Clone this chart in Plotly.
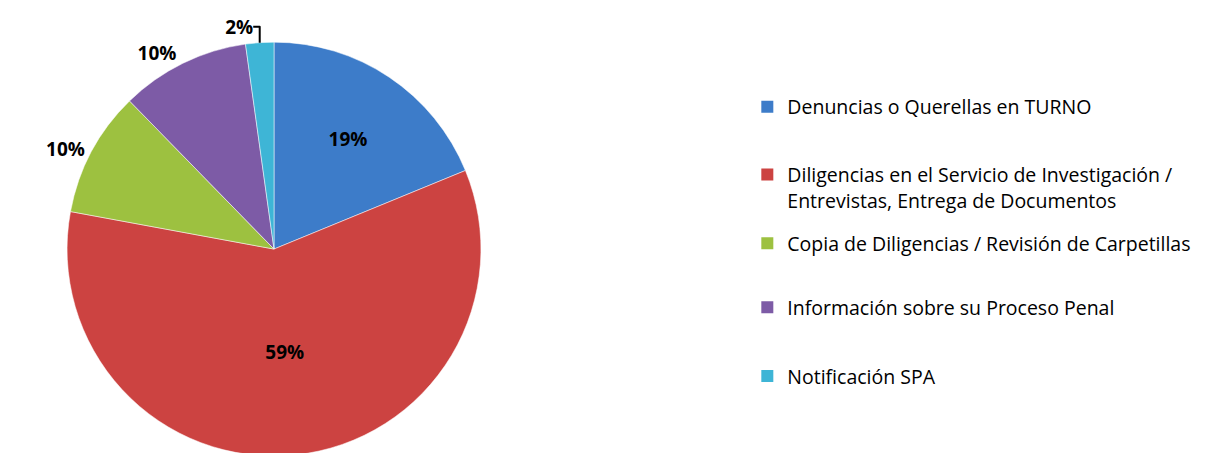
import plotly.graph_objects as go

# categories and shares (percent)
categories = [
    "Denuncias o Querellas en TURNO",
    "Diligencias en el Servicio de Investigación /<br>Entrevistas, Entrega de Documentos",
    "Copia de Diligencias / Revisión de Carpetillas",
    "Información sobre su Proceso Penal",
    "Notificación SPA",
]
shares = [18.8, 59.1, 9.8, 10.1, 2.2]
colors = ["#3D7CC9", "#CC4341", "#9DC140", "#7D5BA6", "#3EB5D6"]
text_pos = ["inside", "inside", "outside", "outside", "outside"]

# vertical place of each legend entry (pixels from top, first text line)
legend_rows = [103, 172, 242, 307, 377]

W, H = 1212, 453

fig = go.Figure()
fig.add_trace(go.Pie(
    labels=categories,
    values=shares,
    sort=False,
    direction="clockwise",
    rotation=0,
    marker=dict(colors=colors, line=dict(color="rgba(255,255,255,0.5)", width=1)),
    texttemplate="%{percent:.0%}",
    textposition=text_pos,
    insidetextorientation="horizontal",
    textfont=dict(family="Open Sans", size=19, color="black", weight="bold"),
    domain=dict(x=[59 / W, 473 / W], y=[0, 0.93]),
    hoverinfo="label+percent",
    showlegend=False,
))

# Excel places legend entries with uneven gaps, so each entry gets its own legend
legends = {}
for i, (name, col, row) in enumerate(zip(categories, colors, legend_rows)):
    key = "legend" if i == 0 else "legend%d" % (i + 1)
    fig.add_trace(go.Scatter(
        x=[None], y=[None], mode="markers", name=name,
        marker=dict(symbol="square", size=12, color=col),
        legend=key, hoverinfo="skip",
    ))
    legends[key] = dict(
        x=0.61, y=1 - (row - 25) / H, xanchor="left", yanchor="top",
        valign="top",
        font=dict(family="Open Sans", size=19.5, color="black"),
        bgcolor="rgba(0,0,0,0)",
    )

fig.update_layout(
    width=W,
    height=H,
    margin=dict(l=0, r=0, t=0, b=0),
    paper_bgcolor="white",
    plot_bgcolor="white",
    showlegend=True,
    xaxis=dict(visible=False),
    yaxis=dict(visible=False),
    **legends,
)

fig.write_html("out.html")
